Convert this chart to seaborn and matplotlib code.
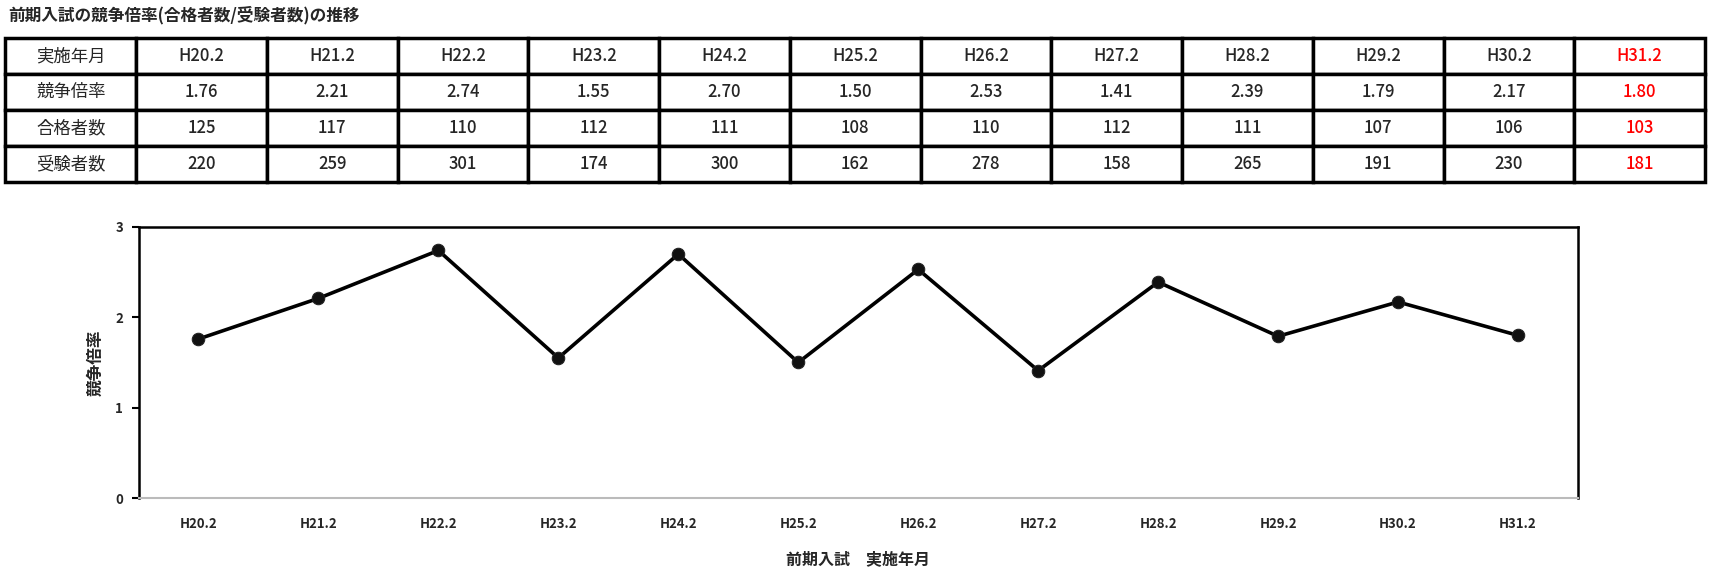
import matplotlib.pyplot as plt
import pandas as pd
import seaborn as sns

years = ["H20.2", "H21.2", "H22.2", "H23.2", "H24.2", "H25.2",
         "H26.2", "H27.2", "H28.2", "H29.2", "H30.2", "H31.2"]
ratio = [1.76, 2.21, 2.74, 1.55, 2.70, 1.50, 2.53, 1.41, 2.39, 1.79, 2.17, 1.80]
passed = [125, 117, 110, 112, 111, 108, 110, 112, 111, 107, 106, 103]
applicants = [220, 259, 301, 174, 300, 162, 278, 158, 265, 191, 230, 181]
row_labels = ["実施年月", "競争倍率", "合格者数", "受験者数"]
yticks = [0, 1, 2, 3]

sns.set_theme(style="white")
plt.rcParams["font.family"] = ["Noto Sans CJK JP", "DejaVu Sans"]

fig = plt.figure(figsize=(17.1, 5.7), dpi=100)

fig.text(0.005, 0.973, "前期入試の競争倍率(合格者数/受験者数)の推移",
         fontsize=12, fontweight="bold", va="center", ha="left")

# table
tab_ax = fig.add_axes([0.0032, 0.6807, 0.9939, 0.2526])
tab_ax.axis("off")
cell_text = [
    [row_labels[0]] + years,
    [row_labels[1]] + [f"{v:.2f}" for v in ratio],
    [row_labels[2]] + [str(v) for v in passed],
    [row_labels[3]] + [str(v) for v in applicants],
]
tbl = tab_ax.table(cellText=cell_text, cellLoc="center", bbox=[0, 0, 1, 1])
tbl.auto_set_font_size(False)
for (r, c), cell in tbl.get_celld().items():
    cell.set_linewidth(2.5)
    cell.set_edgecolor("black")
    txt = cell.get_text()
    if c == 0:
        txt.set_fontsize(12.5)
    else:
        txt.set_fontsize(12)
        txt.set_fontweight("medium")
    if c == len(years):
        txt.set_color("#ff0000")

# line chart
df = pd.DataFrame({"year": years, "ratio": ratio})
ax = fig.add_axes([0.081, 0.1263, 0.8418, 0.4755])
sns.lineplot(data=df, x="year", y="ratio", ax=ax, color="black", linewidth=2.6,
             marker="o", markersize=9, markeredgecolor="#222222",
             markerfacecolor="#111111")
ax.set_xlim(-0.5, len(years) - 0.5)
ax.set_ylim(0, 3)
ax.set_yticks(yticks)
ax.set_yticklabels([str(t) for t in yticks], fontsize=9.5, fontweight="bold")
ax.set_xticks(range(len(years)))
ax.set_xticklabels(years, fontsize=9.5, fontweight="bold")
ax.tick_params(axis="y", which="major", direction="out", length=5, width=1.5,
               color="black", left=True, pad=6)
ax.tick_params(axis="x", length=0, pad=14)
for side in ["left", "top", "right"]:
    ax.spines[side].set_color("black")
    ax.spines[side].set_linewidth(1.8)
ax.spines["bottom"].set_color("#bbbbbb")
ax.spines["bottom"].set_linewidth(1.5)
ax.grid(False)
ax.set_ylabel("競争倍率", fontsize=12, fontweight="bold", labelpad=8)
ax.set_xlabel("前期入試　実施年月", fontsize=11.5, fontweight="bold", labelpad=14)

fig.savefig("out.png", dpi=100)
